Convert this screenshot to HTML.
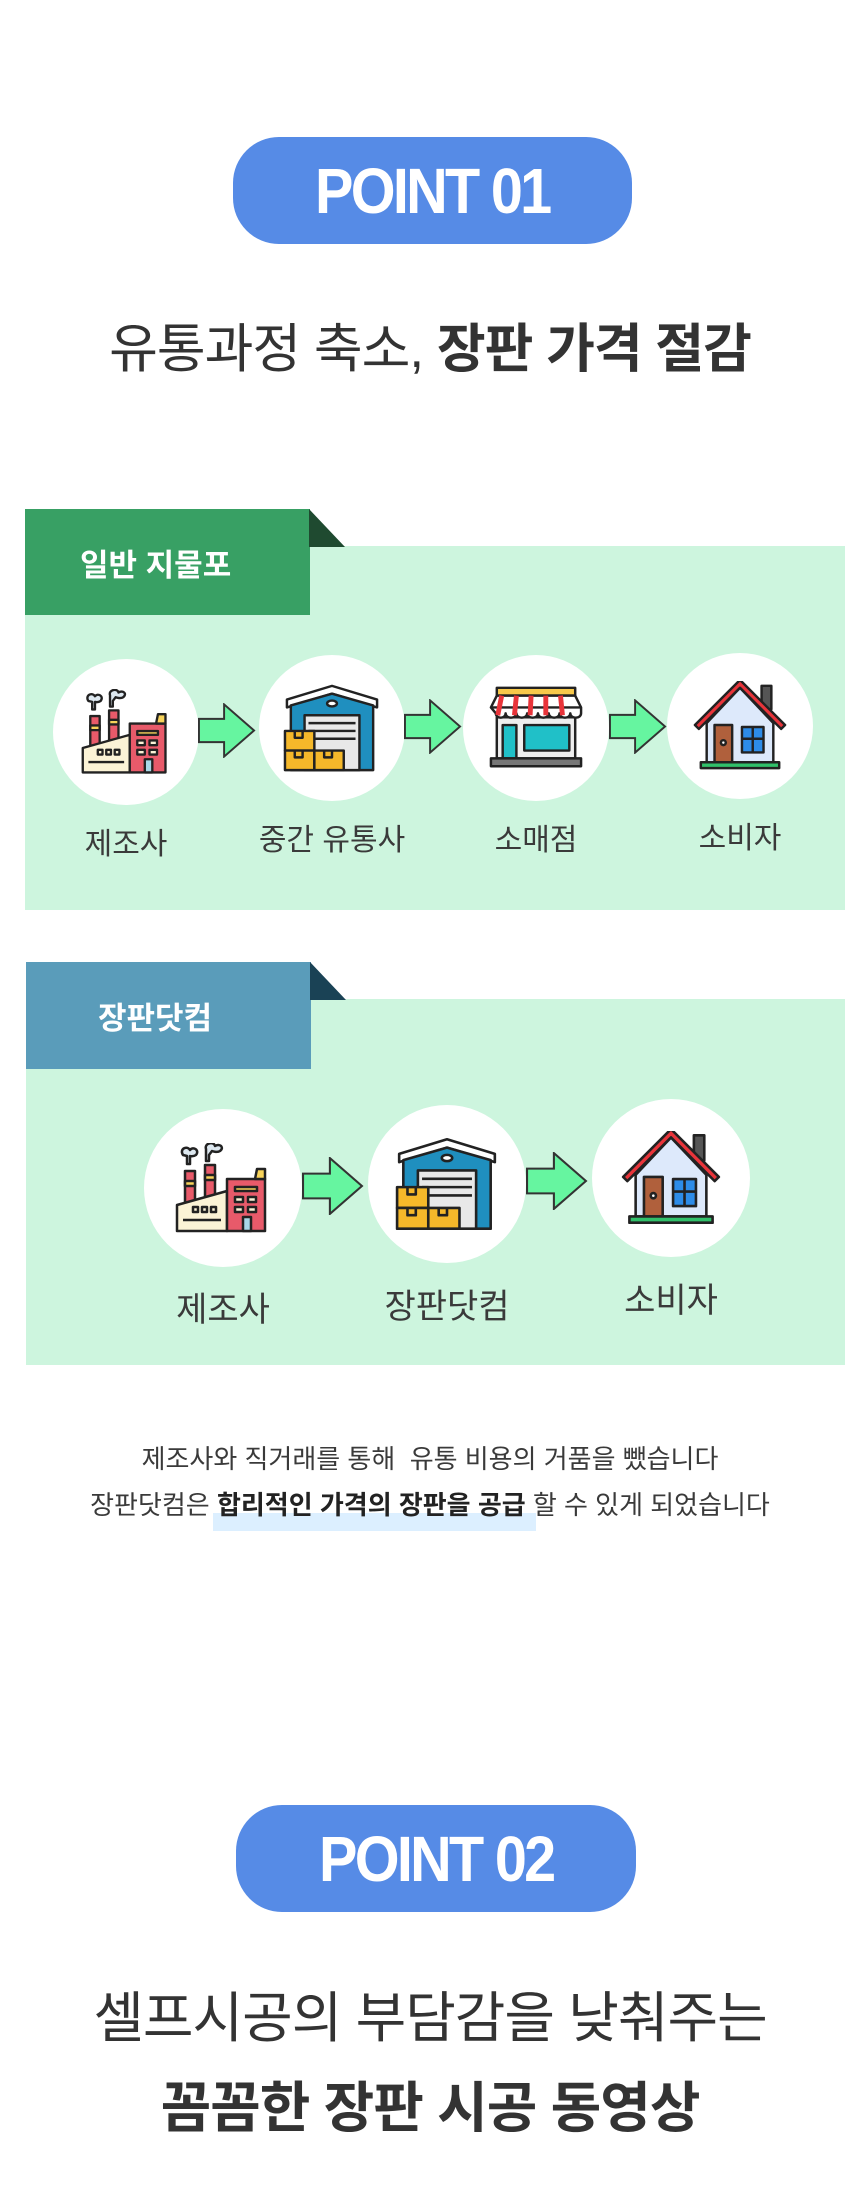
<!DOCTYPE html>
<html><head><meta charset="utf-8">
<style>
*{margin:0;padding:0;box-sizing:border-box}
body{width:860px;height:2190px;background:#fff;position:relative;overflow:hidden;font-family:"Liberation Sans","Noto Sans CJK KR",sans-serif;color:#333}
.abs{position:absolute}
.pill{position:absolute;background:#568be6;border-radius:46px;color:#fff;font-family:"Liberation Sans Narrow","Liberation Sans",sans-serif;font-weight:bold;font-size:64px;display:flex;align-items:center;justify-content:center;letter-spacing:-3px}
.pill span{display:inline-block;transform:scaleX(0.9)}
.ctr{position:absolute;left:0;width:860px;text-align:center;white-space:nowrap}
.circ{position:absolute;background:#fff;border-radius:50%;display:flex;align-items:center;justify-content:center}
.lbl{position:absolute;width:240px;text-align:center;color:#3a3a3a;white-space:nowrap}
.tab{position:absolute;color:#fff;font-weight:bold;font-size:31px;display:flex;align-items:center}
</style></head><body>
<svg width="0" height="0" style="position:absolute">
<defs>
<symbol id="factory" viewBox="0 0 100 90">
<g stroke="#222" stroke-width="2.5" stroke-linejoin="round">
<path d="M10 12c-4-6 4-10 7-5 3-4 10 0 6 5-3 2-6 1-6 1v8h-3v-8z" fill="#dde8f0"/>
<path d="M33 6c-2-6 8-8 9-3 4-3 10 1 5 5-3 2-8 0-8 0l-3 4v6h-3v-8z" fill="#dde8f0"/>
<rect x="12" y="28" width="10" height="40" fill="#e85a6a"/>
<rect x="12" y="38" width="10" height="5" fill="#f7d35a"/>
<rect x="32" y="22" width="10" height="46" fill="#e85a6a"/>
<rect x="32" y="32" width="10" height="5" fill="#f7d35a"/>
<path d="M4 62l50-14v40H4z" fill="#fbf3d6"/>
<rect x="54" y="36" width="38" height="52" fill="#e85a6a"/>
<path d="M82 36l2-10h8v10z" fill="#f7d35a"/>
<rect x="62" y="44" width="22" height="4" fill="#f7d35a"/>
<rect x="62" y="54" width="8" height="5" fill="#fbf3d6"/><rect x="75" y="54" width="8" height="5" fill="#fbf3d6"/>
<rect x="62" y="64" width="8" height="5" fill="#fbf3d6"/><rect x="75" y="64" width="8" height="5" fill="#fbf3d6"/>
<rect x="70" y="74" width="8" height="14" fill="#a8d8e8"/>
<rect x="20" y="64" width="5" height="5" fill="#fbf3d6"/><rect x="29" y="64" width="5" height="5" fill="#fbf3d6"/><rect x="38" y="64" width="5" height="5" fill="#fbf3d6"/>
<line x1="10" y1="77" x2="48" y2="77"/>
</g></symbol>
<symbol id="ware" viewBox="0 0 100 90">
<g stroke="#222" stroke-width="2.5" stroke-linejoin="round">
<path d="M4 16L50 2l46 14v8L50 10 4 24z" fill="#fff"/>
<path d="M8 22L50 10l42 12v66H8z" fill="#1f8fbf"/>
<ellipse cx="50" cy="20" rx="5" ry="3" fill="#fff"/>
<rect x="22" y="32" width="56" height="56" fill="#e8e8e8"/>
<line x1="26" y1="40" x2="74" y2="40"/><line x1="26" y1="48" x2="74" y2="48"/><line x1="26" y1="56" x2="74" y2="56"/>
<rect x="2" y="48" width="30" height="20" fill="#f5b82a"/>
<rect x="2" y="68" width="30" height="20" fill="#f5b82a"/>
<rect x="32" y="68" width="30" height="20" fill="#f5b82a"/>
<path d="M12 48v7h8v-7M12 68v7h8v-7M42 68v7h8v-7" fill="none"/>
</g></symbol>
<symbol id="shop" viewBox="0 0 100 90">
<g stroke="#222" stroke-width="2.5" stroke-linejoin="round">
<rect x="10" y="4" width="80" height="8" fill="#f7c84a"/>
<rect x="10" y="34" width="80" height="42" fill="#eee"/>
<path d="M4 24l6-12h80l6 12v6c0 6-11 6-11 0 0 6-11 6-11 0 0 6-11 6-11 0 0 6-11 6-11 0 0 6-11 6-11 0 0 6-11 6-11 0 0 6-11 6-11 0 0 6-10 6-10 0z" fill="#fff"/>
<path d="M4 24h92" fill="none"/>
<path d="M15 12l-4 20M30 12l-2 20M45 12l-1 20M60 12v20M75 12l2 20" fill="none" stroke="#e8343a" stroke-width="5"/>
<rect x="16" y="42" width="14" height="34" fill="#20c0c8"/>
<rect x="38" y="42" width="46" height="26" fill="#20c0c8"/>
<rect x="4" y="76" width="92" height="8" fill="#777"/>
</g></symbol>
<symbol id="house" viewBox="0 0 100 90">
<g stroke="#222" stroke-width="2.5" stroke-linejoin="round">
<rect x="72" y="4" width="10" height="24" fill="#555"/>
<path d="M16 42L50 6l34 36v40H16z" fill="#dde9fb"/>
<path d="M4 44L50 -2l46 46-4 4L50 6 8 48z" fill="#e8343a"/>
<rect x="24" y="44" width="18" height="38" fill="#b0603c"/>
<circle cx="33" cy="62" r="2.5" fill="#fff"/>
<rect x="52" y="46" width="22" height="26" fill="#2d8ce8"/>
<line x1="63" y1="46" x2="63" y2="72"/><line x1="52" y1="58" x2="74" y2="58"/>
<rect x="10" y="82" width="80" height="6" fill="#30c06a"/>
</g></symbol>
<symbol id="arr" viewBox="0 0 60 56">
<path d="M1 16h26V1l31 27-31 27V40H1z" fill="#66f5a0" stroke="#333" stroke-width="2" stroke-linejoin="miter"/>
</symbol>
</defs></svg>

<div class="pill" style="left:233px;top:137px;width:399px;height:107px"><span>POINT 01</span></div>
<div class="ctr" style="top:318px;font-size:53px;line-height:64px;letter-spacing:-1px">유통과정 축소, <b>장판 가격 절감</b></div>

<!-- section 1 -->
<div class="abs" style="left:25px;top:546px;width:820px;height:364px;background:#cdf5de"></div>
<div class="tab" style="left:25px;top:509px;width:285px;height:106px;background:#38a064;padding-left:55px">일반 지물포</div>
<svg class="abs" style="left:309px;top:509px" width="36" height="38"><path d="M0 0L36 38H0z" fill="#1f4a30"/></svg>

<div class="circ" style="left:53px;top:659px;width:146px;height:146px"><svg width="94" height="86"><use href="#factory"/></svg></div>
<div class="circ" style="left:259px;top:655px;width:146px;height:146px"><svg width="98" height="90"><use href="#ware"/></svg></div>
<div class="circ" style="left:463px;top:655px;width:146px;height:146px"><svg width="98" height="90"><use href="#shop"/></svg></div>
<div class="circ" style="left:667px;top:653px;width:146px;height:146px"><svg width="98" height="90"><use href="#house"/></svg></div>
<svg class="abs" style="left:198px;top:703px" width="58" height="55"><use href="#arr"/></svg>
<svg class="abs" style="left:404px;top:699px" width="58" height="55"><use href="#arr"/></svg>
<svg class="abs" style="left:609px;top:699px" width="58" height="55"><use href="#arr"/></svg>
<div class="lbl" style="left:6px;top:819px;font-size:30px">제조사</div>
<div class="lbl" style="left:212px;top:815px;font-size:30px">중간 유통사</div>
<div class="lbl" style="left:416px;top:815px;font-size:30px">소매점</div>
<div class="lbl" style="left:620px;top:813px;font-size:30px">소비자</div>

<!-- section 2 -->
<div class="abs" style="left:26px;top:999px;width:819px;height:366px;background:#cdf5de"></div>
<div class="tab" style="left:26px;top:962px;width:285px;height:107px;background:#5a9cba;padding-left:72px">장판닷컴</div>
<svg class="abs" style="left:310px;top:962px" width="36" height="38"><path d="M0 0L36 38H0z" fill="#1a4255"/></svg>

<div class="circ" style="left:144px;top:1109px;width:158px;height:158px"><svg width="100" height="90"><use href="#factory"/></svg></div>
<div class="circ" style="left:368px;top:1105px;width:158px;height:158px"><svg width="104" height="94"><use href="#ware"/></svg></div>
<div class="circ" style="left:592px;top:1099px;width:158px;height:158px"><svg width="104" height="94"><use href="#house"/></svg></div>
<svg class="abs" style="left:302px;top:1157px" width="62" height="58"><use href="#arr"/></svg>
<svg class="abs" style="left:526px;top:1152px" width="62" height="58"><use href="#arr"/></svg>
<div class="lbl" style="left:103px;top:1282px;font-size:34px">제조사</div>
<div class="lbl" style="left:327px;top:1279px;font-size:34px">장판닷컴</div>
<div class="lbl" style="left:551px;top:1273px;font-size:34px">소비자</div>

<div class="abs" style="left:213px;top:1513px;width:323px;height:18px;background:#dcefff"></div>
<div class="ctr" style="top:1442px;font-size:26px;line-height:34px;letter-spacing:0px;color:#3a3a3a">제조사와 직거래를 통해&nbsp; 유통 비용의 거품을 뺐습니다</div>
<div class="ctr" style="top:1488px;font-size:26px;line-height:34px;letter-spacing:0px;color:#3a3a3a">장판닷컴은 <b style="color:#222">합리적인 가격의 장판을 공급</b> 할 수 있게 되었습니다</div>

<div class="pill" style="left:236px;top:1805px;width:400px;height:107px"><span>POINT 02</span></div>
<div class="ctr" style="top:1985px;font-size:55px;line-height:66px;letter-spacing:-1px">셀프시공의 부담감을 낮춰주는</div>
<div class="ctr" style="top:2075px;font-size:55px;line-height:66px;letter-spacing:-1px;font-weight:bold">꼼꼼한 장판 시공 동영상</div>
</body></html>
